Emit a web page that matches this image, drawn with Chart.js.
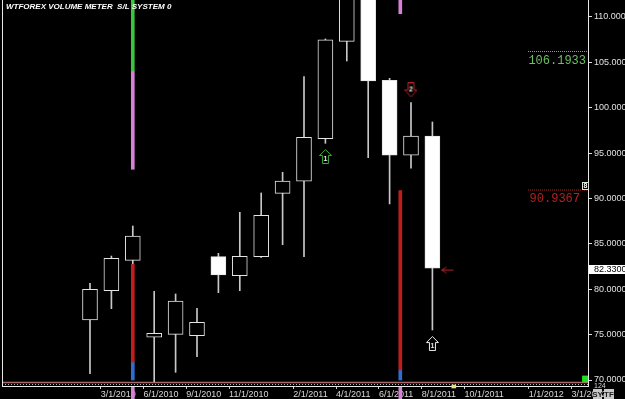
<!DOCTYPE html>
<html>
<head>
<meta charset="utf-8">
<title>WTFOREX Volume Meter</title>
<script src="https://cdn.jsdelivr.net/npm/chart.js@4.4.1/dist/chart.umd.min.js"></script>
<style>
  html, body { margin: 0; padding: 0; background: #000; overflow: hidden; }
  #chart { display: block; }
</style>
</head>
<body>
<canvas id="chart" width="625" height="399"></canvas>
<script>
// one slot per candle, evenly spaced
const bars  = [1, 2, 3, 4, 5, 6, 7, 8, 9, 10, 11, 12, 13, 14, 15, 16, 17];
const open  = [76.61, 79.84, 83.19, 74.71, 75.03, 74.88, 83.59, 81.50, 83.59, 90.57, 91.90, 96.59, 107.32, 115.00, 103.02, 94.76, 96.89];
const high  = [80.66, 83.66, 86.97, 79.77, 79.48, 77.90, 83.96, 88.48, 90.61, 92.89, 103.42, 107.58, 116.50, 116.50, 103.24, 100.56, 98.43];
const low   = [70.69, 77.86, 81.02, 69.80, 70.85, 72.57, 79.62, 79.84, 83.50, 84.91, 83.59, 96.08, 105.15, 94.50, 89.40, 93.33, 75.51];
const close = [80.00, 83.41, 85.87, 75.14, 78.71, 76.36, 81.57, 83.63, 88.15, 91.93, 96.74, 107.47, 115.00, 102.95, 94.76, 96.89, 82.33];

const xTickPos    = [1.5, 3.5, 5.5, 7.5, 10.5, 12.5, 14.5, 16.5, 18.5, 21.5, 23.5];
const xTickLabels = ['3/1/2010', '6/1/2010', '9/1/2010', '11/1/2010', '2/1/2011', '4/1/2011', '6/1/2011', '8/1/2011', '10/1/2011', '1/1/2012', '3/1/2012'];
const yTicks      = [70, 75, 80, 85, 90, 95, 100, 105, 110];

// S/L system columns
const signalX    = [3, 15.5];
const upperGreen = [[104.05, 116], null];
const upperPink  = [[93.22, 104.05], [110.36, 116]];
const lowerRed   = [[71.98, 82.75], [71.10, 90.86]];
const lowerBlue  = [[70.00, 71.98], [70.00, 71.10]];
const footPink   = [[67.90, 69.20], [67.90, 69.20]];

const levelGreen = 106.1933;
const levelRed   = 90.9367;
const lastPrice  = 82.33;
const levelFromX = 21.47;

const arrowX     = [12, 16, 17, 17.71];
const arrowY     = [94.63, 101.96, 74.02, 82.12];
const arrowDigit = ['1', '2', '1', ''];

const X_MIN = -3.112, X_MAX = 24.271, Y_MIN = 69.34, Y_MAX = 111.87;
const NARROW = "'Liberation Sans Narrow', 'Liberation Sans', Arial, sans-serif";

function segData(segs) {
  return signalX.map((x, i) => segs[i] ? { x, y: segs[i] } : null).filter(Boolean);
}

function arrowIcon(dir, stroke, digit) {
  const c = document.createElement('canvas');
  c.width = 13; c.height = 15;
  const g = c.getContext('2d');
  g.strokeStyle = stroke; g.lineWidth = 1;
  g.beginPath();
  if (dir === 'up') {
    g.moveTo(6.5, 0.5); g.lineTo(12.5, 6.5); g.lineTo(9.5, 6.5); g.lineTo(9.5, 14.5);
    g.lineTo(3.5, 14.5); g.lineTo(3.5, 6.5); g.lineTo(0.5, 6.5); g.closePath();
  } else if (dir === 'down') {
    g.moveTo(3.5, 0.5); g.lineTo(9.5, 0.5); g.lineTo(9.5, 7.5); g.lineTo(12.5, 7.5);
    g.lineTo(6.5, 14.5); g.lineTo(0.5, 7.5); g.lineTo(3.5, 7.5); g.closePath();
  } else {
    g.moveTo(0.5, 7.5); g.lineTo(12.5, 7.5);
    g.moveTo(0.5, 7.5); g.lineTo(5.5, 4.5);
    g.moveTo(0.5, 7.5); g.lineTo(5.5, 10.5);
  }
  g.stroke();
  if (digit) {
    g.fillStyle = '#f0f0f0';
    g.font = 'bold 7px ' + NARROW;
    g.textAlign = 'center'; g.textBaseline = 'middle';
    g.fillText(digit, 6.5, dir === 'up' ? 10.5 : 7);
  }
  return c;
}

const arrowIcons = [
  arrowIcon('up', '#3aa83a', arrowDigit[0]),
  arrowIcon('down', '#b02222', arrowDigit[1]),
  arrowIcon('up', '#f0f0f0', arrowDigit[2]),
  arrowIcon('left', '#b02222', arrowDigit[3])
];

const chrome = {
  id: 'chrome',
  beforeDatasetsDraw(chart) {
    const { ctx, chartArea: a } = chart;
    ctx.save();
    ctx.strokeStyle = '#a86a6a'; ctx.lineWidth = 1.5;
    ctx.beginPath(); ctx.moveTo(a.left, a.bottom - 3.5); ctx.lineTo(a.right, a.bottom - 3.5); ctx.stroke();
    ctx.strokeStyle = '#b8b8b8'; ctx.lineWidth = 1; ctx.setLineDash([1, 2]);
    ctx.beginPath(); ctx.moveTo(a.left, a.bottom - 1.5); ctx.lineTo(a.right, a.bottom - 1.5); ctx.stroke();
    ctx.setLineDash([]);
    ctx.strokeStyle = '#e8e8e8';
    ctx.beginPath(); ctx.moveTo(a.left + 0.5, a.top); ctx.lineTo(a.left + 0.5, a.bottom); ctx.stroke();
    ctx.restore();
  },
  afterDraw(chart) {
    const { ctx, chartArea: a } = chart;
    const ys = chart.scales.y;
    ctx.save();
    // title
    ctx.fillStyle = '#ffffff';
    ctx.font = 'italic bold 8px ' + NARROW;
    ctx.textBaseline = 'middle';
    ctx.fillText('WTFOREX VOLUME METER  S/L SYSTEM 0', 6, 7);

    // level readouts
    ctx.font = '12px "Liberation Mono", monospace';
    ctx.textAlign = 'right';
    ctx.fillStyle = '#6cbf63';
    ctx.fillText(levelGreen.toFixed(4), a.right - 2, ys.getPixelForValue(levelGreen) + 9);
    ctx.fillStyle = '#b42020';
    ctx.fillText(levelRed.toFixed(4), a.right - 8, ys.getPixelForValue(levelRed) + 9);

    // small "8" tag on the red level
    const ry = Math.round(ys.getPixelForValue(levelRed));
    ctx.fillStyle = '#000'; ctx.fillRect(a.right - 6, ry - 8, 7, 8);
    ctx.strokeStyle = '#d8e8d8'; ctx.lineWidth = 1; ctx.strokeRect(a.right - 5.5, ry - 7.5, 6, 7);
    ctx.fillStyle = '#ffffff'; ctx.font = 'bold 7px ' + NARROW; ctx.textAlign = 'center';
    ctx.fillText('8', a.right - 2.5, ry - 3.5);

    // last price box
    const py = ys.getPixelForValue(lastPrice);
    ctx.fillStyle = '#ffffff';
    ctx.fillRect(a.right + 1, Math.round(py) - 3, 36, 9);
    ctx.fillStyle = '#000000'; ctx.font = '9px ' + NARROW; ctx.textAlign = 'left';
    ctx.fillText(lastPrice.toFixed(4), a.right + 6, Math.round(py) + 1.5);

    // bar count under the last tick
    ctx.fillStyle = '#d8d8d8'; ctx.font = '7px ' + NARROW;
    ctx.fillText('124', a.right + 6, a.bottom);

    // SY / TF buttons
    ctx.font = 'bold 8px ' + NARROW; ctx.textAlign = 'center';
    [['SY', 593, 9], ['TF', 604, 10]].forEach(([t, x, w]) => {
      ctx.fillStyle = '#c8c8c8'; ctx.fillRect(x, 389, w, 10);
      ctx.fillStyle = '#202020'; ctx.fillText(t, x + w / 2, 394.5);
    });
    ctx.restore();
  }
};

const barBase = { type: 'bar', grouped: false, borderSkipped: false };

new Chart(document.getElementById('chart'), {
  type: 'bar',
  data: {
    datasets: [
      { ...barBase, label: 'wick', xAxisID: 'x', order: 6,
        data: bars.map((b, i) => ({ x: b, y: [low[i], high[i]] })),
        backgroundColor: '#c8c8c8', barThickness: 1, maxBarThickness: 1 },
      { ...barBase, label: 'body', xAxisID: 'x', order: 5,
        data: bars.map((b, i) => ({ x: b, y: [open[i], close[i]] })),
        backgroundColor: ctx => close[ctx.dataIndex] < open[ctx.dataIndex] ? '#ffffff' : '#000000',
        borderColor: '#e4e4e4', borderWidth: 1, barThickness: 15, maxBarThickness: 15 },
      { ...barBase, label: 'green', xAxisID: 'x2', order: 2, data: segData(upperGreen),
        backgroundColor: '#3cc43c', barThickness: 3, maxBarThickness: 3 },
      { ...barBase, label: 'pink', xAxisID: 'x2', order: 2, data: segData(upperPink),
        backgroundColor: '#d780d7', barThickness: 3, maxBarThickness: 3 },
      { ...barBase, label: 'red', xAxisID: 'x2', order: 2, data: segData(lowerRed),
        backgroundColor: '#c21d1d', barThickness: 3, maxBarThickness: 3 },
      { ...barBase, label: 'blue', xAxisID: 'x2', order: 2, data: segData(lowerBlue),
        backgroundColor: '#2d6fd1', barThickness: 3, maxBarThickness: 3 },
      { ...barBase, label: 'foot', xAxisID: 'x2', order: 1, data: segData(footPink), clip: false,
        backgroundColor: '#d780d7', barThickness: 3, maxBarThickness: 3 },
      { ...barBase, label: 'flag', xAxisID: 'x2', order: 1, data: [{ x: 24.15, y: [69.80, 70.45] }],
        backgroundColor: '#1ee01e', barThickness: 6, maxBarThickness: 6 },
      { ...barBase, label: 'tick', xAxisID: 'x2', order: 1, data: [{ x: 18, y: [69.12, 69.45] }], clip: false,
        backgroundColor: '#e8e070', barThickness: 4, maxBarThickness: 4 },
      { type: 'line', label: 'lvlG', xAxisID: 'x', order: 3,
        data: [{ x: levelFromX, y: levelGreen }, { x: X_MAX, y: levelGreen }],
        borderColor: '#6cbf63', borderWidth: 1, borderDash: [1, 1], pointRadius: 0 },
      { type: 'line', label: 'lvlR', xAxisID: 'x', order: 3,
        data: [{ x: levelFromX, y: levelRed }, { x: X_MAX, y: levelRed }],
        borderColor: '#c42424', borderWidth: 1, borderDash: [1, 1], pointRadius: 0 },
      { type: 'line', label: 'arrows', xAxisID: 'x', order: 0, showLine: false, clip: false,
        data: arrowX.map((x, i) => ({ x, y: arrowY[i] })),
        pointStyle: arrowIcons, pointRadius: 6 }
    ]
  },
  options: {
    responsive: false,
    animation: false,
    layout: { autoPadding: false, padding: { left: 2, top: 0, right: 0, bottom: 0 } },
    plugins: { legend: { display: false }, tooltip: { enabled: false } },
    scales: {
      x: {
        type: 'linear', min: X_MIN, max: X_MAX, offset: false,
        grid: { drawOnChartArea: false, tickLength: 3, color: '#d0d0d0', offset: false },
        border: { display: true, color: '#e8e8e8', width: 1 },
        ticks: {
          autoSkip: false, maxRotation: 0, align: 'start', padding: 0,
          color: '#d8d8d8', font: { size: 9, family: NARROW },
          callback: (v, i) => xTickLabels[i]
        },
        afterBuildTicks: s => { s.ticks = xTickPos.map(v => ({ value: v })); },
        afterFit: s => { s.height = 13; s.paddingLeft = 0; s.paddingRight = 0; }
      },
      x2: { type: 'linear', min: X_MIN, max: X_MAX, offset: false, display: false },
      y: {
        position: 'right', min: Y_MIN, max: Y_MAX,
        grid: { drawOnChartArea: false, tickLength: 4, color: '#e0e0e0' },
        border: { display: true, color: '#e8e8e8', width: 1 },
        ticks: { color: '#e0e0e0', padding: 2, font: { size: 9, family: NARROW }, callback: v => v.toFixed(4) },
        afterBuildTicks: s => { s.ticks = yTicks.map(v => ({ value: v })); },
        afterFit: s => { s.width = 37; s.paddingTop = 0; s.paddingBottom = 0; }
      }
    }
  },
  plugins: [chrome]
});
</script>
</body>
</html>
